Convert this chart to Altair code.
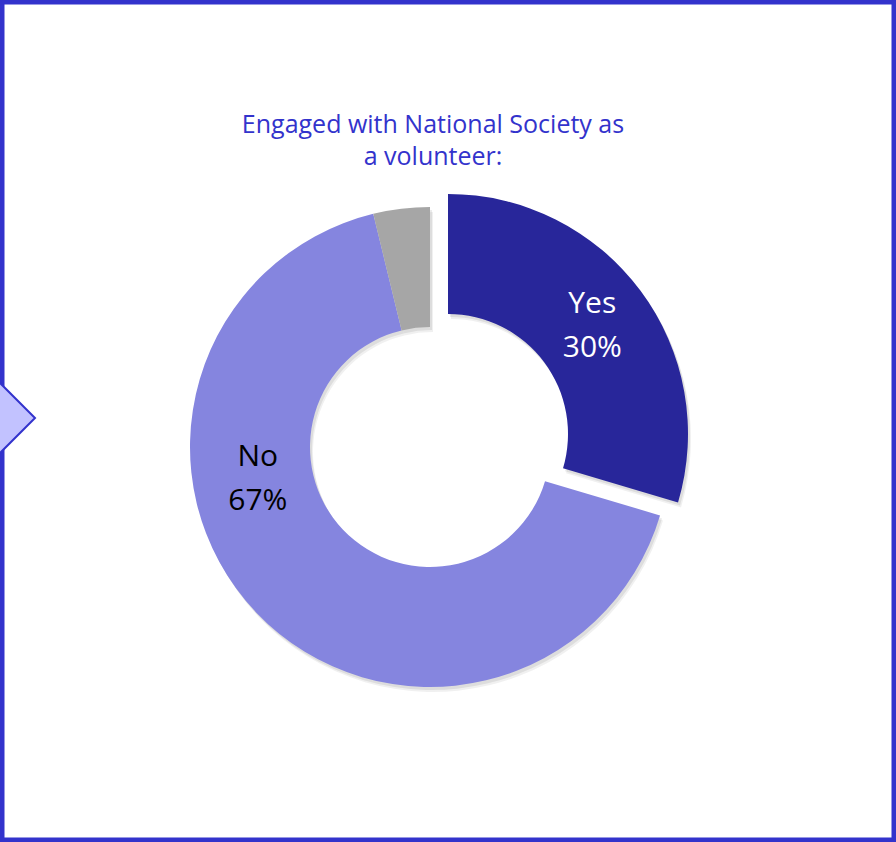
import altair as alt
import pandas as pd

categories = ["Yes", "No", "Other"]
values = [29.6, 66.6, 3.8]
colors = ["#28269A", "#8585DF", "#A6A6A6"]
show_label = [True, True, False]
label_colors = ["#FFFFFF", "#000000", "#000000"]
title_text = "Engaged with National Society as\na volunteer:"

labels = [f"{c}\n{round(v):d}%" if s else "" for c, v, s in zip(categories, values, show_label)]
df = pd.DataFrame({"category": categories, "value": values,
                   "order": list(range(len(categories))), "label": labels})

FONT = "Open Sans"
R_OUT, R_IN = 240, 120
CX, CY = 430, 447          # ring centre
EX, EY = 448, 434          # exploded "Yes" slice centre

theta_scale = alt.Scale(domain=[0, 100])
color_scale = alt.Scale(domain=categories, range=colors)

base = alt.Chart(df).transform_window(
    cum="sum(value)", sort=[alt.SortField("order")], frame=[None, 0]
).transform_calculate(
    start="datum.cum - datum.value", mid="datum.cum - datum.value / 2"
)

def arcs(filter_expr, cx, cy, shadow=False, dx=0, dy=0, op=1.0):
    ch = base.transform_filter(filter_expr)
    if shadow:
        m = ch.mark_arc(outerRadius=R_OUT, innerRadius=R_IN, color="#000000", opacity=op)
        return m.encode(
            theta=alt.Theta("start:Q", scale=theta_scale), theta2="cum:Q",
            x=alt.value(cx + dx), y=alt.value(cy + dy))
    m = ch.mark_arc(outerRadius=R_OUT, innerRadius=R_IN)
    return m.encode(
        theta=alt.Theta("start:Q", scale=theta_scale), theta2="cum:Q",
        color=alt.Color("category:N", scale=color_scale, legend=None),
        x=alt.value(cx), y=alt.value(cy))

not_yes = "datum.category != 'Yes'"
is_yes = "datum.category == 'Yes'"

shadows = [
    arcs(not_yes, CX, CY, True, 3, 5, 0.06),
    arcs(not_yes, CX, CY, True, 2, 3, 0.08),
    arcs(is_yes, EX, EY, True, 3, 5, 0.06),
    arcs(is_yes, EX, EY, True, 2, 3, 0.08),
]

ring = arcs(not_yes, CX, CY)
yes_arc = arcs(is_yes, EX, EY)

text_yes = base.transform_filter(is_yes).mark_text(
    radius=180, font=FONT, fontSize=30, lineBreak="\n", lineHeight=44,
    align="center", baseline="middle", dy=-22, color=label_colors[0]
).encode(theta=alt.Theta("mid:Q", scale=theta_scale), text="label:N",
         x=alt.value(EX), y=alt.value(EY))

text_no = base.transform_filter("datum.category == 'No'").mark_text(
    radius=175, thetaOffset=0.58, font=FONT, fontSize=30, lineBreak="\n", lineHeight=44,
    align="center", baseline="middle", dy=-21, color=label_colors[1]
).encode(theta=alt.Theta("mid:Q", scale=theta_scale), text="label:N",
         x=alt.value(CX), y=alt.value(CY))

title = alt.Chart(pd.DataFrame({"t": [title_text]})).mark_text(
    font=FONT, fontSize=25, lineBreak="\n", lineHeight=32,
    align="center", baseline="middle", color="#3333CC"
).encode(text="t:N", x=alt.value(433), y=alt.value(125))

arrow = alt.Chart(pd.DataFrame({"a": [0]})).mark_point(
    shape="diamond", size=4900, filled=True, fill="#C2C2FF", stroke="#3333CC",
    strokeWidth=2, opacity=1
).encode(x=alt.value(0), y=alt.value(418))

chart = alt.layer(*shadows, ring, yes_arc, text_yes, text_no, title, arrow).properties(
    width=896, height=842, padding=0,
    autosize=alt.AutoSizeParams(type="none"),
    background="white",
).configure_view(stroke="#3333CC", strokeWidth=9, fill="white")

chart.save("out.html", embed_options={"renderer": "svg", "actions": False})
